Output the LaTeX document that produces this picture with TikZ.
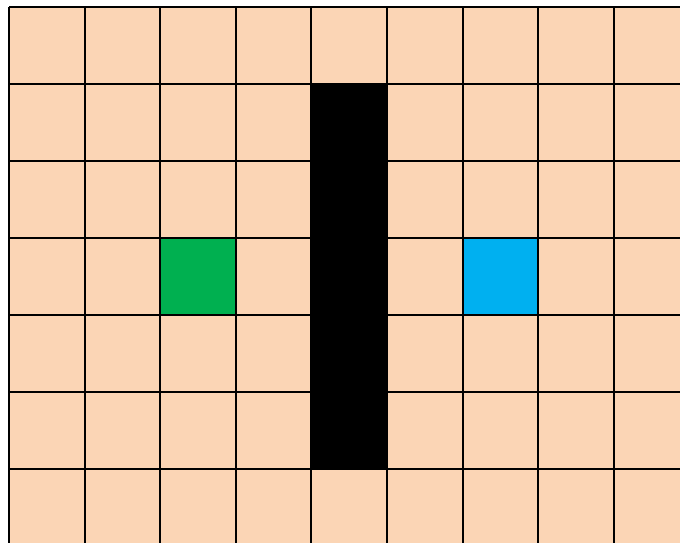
\documentclass[tikz,border=0pt]{standalone}
\definecolor{cellbg}{HTML}{FBD5B5}
\definecolor{cellgreen}{HTML}{00B050}
\definecolor{cellblue}{HTML}{00B0F0}
\tikzset{gridline/.style={line width=2pt, black}}
\begin{document}
\begin{tikzpicture}[x=1pt,y=-1pt]
\useasboundingbox (0,0) rectangle (680,542);
\clip (0,0) rectangle (680,542);
\def\cw{75.6}
\def\ch{77}
% background cells
\fill[cellbg] (9,7) rectangle (9+9*\cw,7+7*\ch);
% special cells
\fill[cellgreen] (9+2*\cw,7+3*\ch) rectangle (9+3*\cw,7+4*\ch);
\fill[cellblue] (9+6*\cw,7+3*\ch) rectangle (9+7*\cw,7+4*\ch);
\fill[black] (9+4*\cw,7+1*\ch) rectangle (9+5*\cw,7+6*\ch);
% grid lines
\foreach \i in {0,...,9} \draw[gridline] (9+\i*\cw,7) -- (9+\i*\cw,7+7*\ch);
\foreach \j in {0,...,7} \draw[gridline] (9,7+\j*\ch) -- (9+9*\cw,7+\j*\ch);
\end{tikzpicture}
\end{document}
